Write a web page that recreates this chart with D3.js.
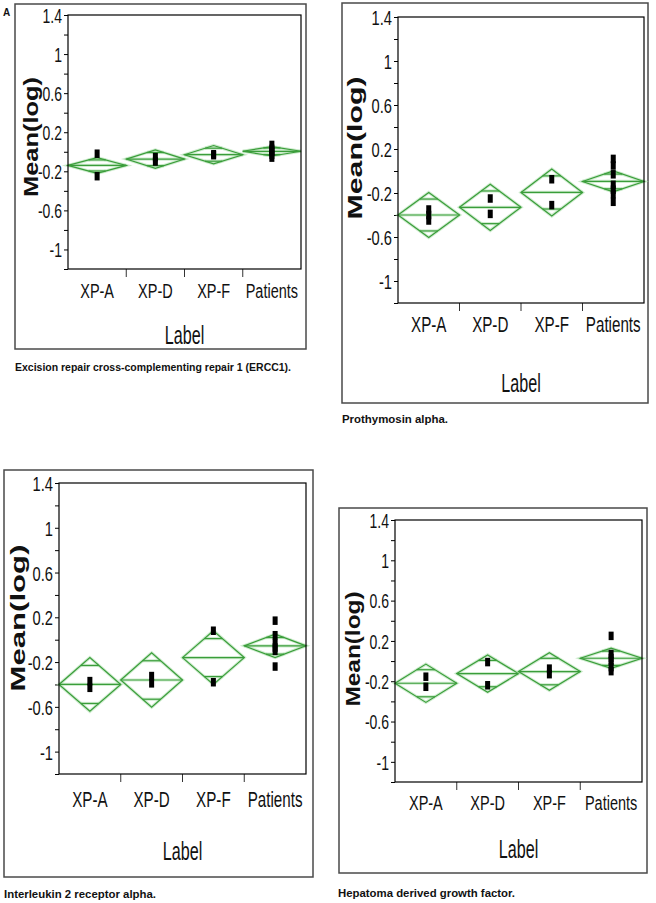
<!DOCTYPE html>
<html><head><meta charset="utf-8">
<script src="https://cdn.jsdelivr.net/npm/d3@7"></script>
<style>body{margin:0;background:#fff}svg{display:block}</style>
</head><body>
<svg id="c" width="656" height="903"></svg>
<script>
// ---------- data ----------
const categories = ["XP-A", "XP-D", "XP-F", "Patients"];
const yTickValues = [1.4, 1.2, 1, 0.8, 0.6, 0.4, 0.2, 0, -0.2, -0.4, -0.6, -0.8, -1, -1.2];
const yTickLabels = [1.4, 1, 0.6, 0.2, -0.2, -0.6, -1];
const yDomain = [-1.2, 1.4];
const yTitle = "Mean(log)";
const xTitle = "Label";
const panelLetter = "A";
const captions = [
  "Excision repair cross-complementing repair 1 (ERCC1).",
  "Prothymosin alpha.",
  "Interleukin 2 receptor alpha.",
  "Hepatoma derived growth factor."
];

// ERCC1
const meansERCC1 = [-0.14, -0.075, -0.03, 0.005];
const ciERCC1 = [0.08, 0.095, 0.094, 0.048];
const pointsERCC1 = [[-0.02, -0.25], [-0.055, -0.10], [-0.025, -0.035], [0.07, 0.03, 0.01, 0.0, -0.03, -0.06]];
// Prothymosin alpha
const meansPTMA = [-0.40, -0.33, -0.195, -0.095];
const ciPTMA = [0.205, 0.21, 0.213, 0.095];
const pointsPTMA = [[-0.35, -0.40, -0.45], [-0.25, -0.39], [-0.075, -0.31], [0.11, 0.05, -0.03, -0.125, -0.17, -0.21, -0.28]];
// IL2RA
const meansIL2RA = [-0.40, -0.36, -0.16, -0.055];
const ciIL2RA = [0.24, 0.243, 0.24, 0.105];
const pointsIL2RA = [[-0.37, -0.43], [-0.325, -0.39], [0.08, -0.38], [0.17, 0.04, -0.03, -0.07, -0.10, -0.24]];
// HDGF
const meansHDGF = [-0.22, -0.124, -0.104, 0.028];
const ciHDGF = [0.19, 0.185, 0.186, 0.10];
const pointsHDGF = [[-0.155, -0.255], [-0.01, -0.24], [-0.075, -0.13], [0.25, 0.07, 0.03, 0.0, -0.06, -0.10]];

const panelsData = [
  {means: meansERCC1, ci: ciERCC1, points: pointsERCC1, caption: captions[0]},
  {means: meansPTMA, ci: ciPTMA, points: pointsPTMA, caption: captions[1]},
  {means: meansIL2RA, ci: ciIL2RA, points: pointsIL2RA, caption: captions[2]},
  {means: meansHDGF, ci: ciHDGF, points: pointsHDGF, caption: captions[3]}
];

// ---------- layout ----------
const layouts = [
  {frame:[15,4,306,349], plot:[68,15,301,269], catY:290, labY:335, yl:[31,137,120], cap:[15,367,276], fs:19},
  {frame:[342,3,648,403], plot:[398,17,644,303], catY:324, labY:383, yl:[355,148,143], cap:[342,419,106], fs:20},
  {frame:[4,470,313,877], plot:[59,483,306,774], catY:799, labY:851, yl:[18,618,147], cap:[4,894,152], fs:20},
  {frame:[339,508,647,873], plot:[395,520,642,782], catY:802, labY:849, yl:[353,649,115], cap:[338,893,177], fs:19}
];

const svg = d3.select("#c");
const FONT = "'Liberation Sans', Arial, sans-serif";
const GREEN = "#3a9d3a";

function fitTo(sel, w) {
  sel.attr("textLength", w).attr("lengthAdjust", "spacingAndGlyphs");
}

panelsData.forEach((pd, i) => {
  const L = layouts[i];
  const [px0, py0, px1, py1] = L.plot;
  const g = svg.append("g");

  // outer frame
  g.append("rect")
    .attr("x", L.frame[0]).attr("y", L.frame[1])
    .attr("width", L.frame[2] - L.frame[0]).attr("height", L.frame[3] - L.frame[1])
    .attr("fill", "none").attr("stroke", "#4a4a4a").attr("stroke-width", 1.5);

  const x = d3.scaleBand().domain(categories).range([px0, px1]).padding(0);
  const y = d3.scaleLinear().domain(yDomain).range([py1, py0]);
  const bw = x.bandwidth();

  // y axis
  const fy = 0.7;
  const yAxis = d3.axisLeft(y).tickValues(yTickValues).tickSize(4).tickSizeOuter(0)
    .tickFormat(d => yTickLabels.some(v => Math.abs(v - d) < 1e-9) ? String(d) : "");
  const ya = g.append("g").attr("transform", `translate(${px0},0)`).call(yAxis);
  ya.select(".domain").remove();
  ya.selectAll(".tick line").attr("stroke", "#000");
  ya.selectAll(".tick text")
    .attr("font-family", FONT).attr("font-size", L.fs + 1).attr("fill", "#111")
    .attr("x", -6 / fy).attr("dy", "0.36em")
    .attr("transform", `scale(${fy},1)`);

  // x axis labels
  const fx = 0.69;
  const xAxis = d3.axisBottom(x).tickSize(0).tickPadding(0);
  const xa = g.append("g").attr("transform", `translate(0,${L.catY})`).call(xAxis);
  xa.select(".domain").remove();
  xa.selectAll(".tick text")
    .attr("font-family", FONT).attr("font-size", L.fs + 2).attr("fill", "#111")
    .attr("y", 0).attr("dy", "0.36em")
    .attr("transform", `scale(${fx},1)`);

  // category separators
  g.selectAll(".sep").data(categories.slice(1)).join("line")
    .attr("x1", d => x(d)).attr("x2", d => x(d))
    .attr("y1", py1).attr("y2", py1 + 8)
    .attr("stroke", "#333").attr("stroke-width", 1);

  // diamonds
  const dg = g.append("g");
  categories.forEach((c, k) => {
    const m = pd.means[k], h = pd.ci[k];
    const xl = x(c), xr = x(c) + bw, xc = x(c) + bw / 2;
    const pts = [[xl, y(m)], [xc, y(m + h)], [xr, y(m)], [xc, y(m - h)]];
    const poly = "M" + pts.map(p => p.join(",")).join("L") + "Z";
    const o = h * Math.SQRT1_2;
    const fr = 1 - Math.SQRT1_2;
    const lines = [
      [xl, xr, m],
      [xc - fr * bw / 2, xc + fr * bw / 2, m + o],
      [xc - fr * bw / 2, xc + fr * bw / 2, m - o]
    ];
    [["#a8dca8", 3.2, 0.55], [GREEN, 1.2, 1]].forEach(([col, sw, op]) => {
      dg.append("path").attr("d", poly).attr("fill", "none")
        .attr("stroke", col).attr("stroke-width", sw).attr("stroke-opacity", op);
      lines.forEach(l => dg.append("line")
        .attr("x1", l[0]).attr("x2", l[1]).attr("y1", y(l[2])).attr("y2", y(l[2]))
        .attr("stroke", col).attr("stroke-width", sw).attr("stroke-opacity", op));
    });
  });

  // points
  const pdata = [];
  categories.forEach((c, k) => pd.points[k].forEach(v => pdata.push({c, v})));
  g.append("g").selectAll("rect").data(pdata).join("rect")
    .attr("x", d => x(d.c) + bw / 2 - 2.5)
    .attr("y", d => y(d.v) - 4.25)
    .attr("width", 5).attr("height", 8.5)
    .attr("fill", "#000");

  // plot box
  g.append("rect")
    .attr("x", px0).attr("y", py0).attr("width", px1 - px0).attr("height", py1 - py0)
    .attr("fill", "none").attr("stroke", "#000").attr("stroke-width", 1.2);

  // x title
  const ft = 0.62;
  g.append("text")
    .attr("transform", `translate(${(px0 + px1) / 2},${L.labY}) scale(${ft},1)`)
    .attr("dy", "0.36em")
    .attr("text-anchor", "middle").attr("font-family", FONT).attr("font-size", 26)
    .attr("fill", "#111").text(xTitle);

  // y title (rotated)
  const yt = g.append("text")
    .attr("transform", `translate(${L.yl[0]},${L.yl[1]}) rotate(-90)`)
    .attr("dy", "0.36em")
    .attr("text-anchor", "middle").attr("font-family", FONT).attr("font-weight", "bold")
    .attr("font-size", 20).attr("fill", "#111").text(yTitle);
  fitTo(yt, L.yl[2]);

  // caption
  const ct = g.append("text")
    .attr("x", L.cap[0]).attr("y", L.cap[1]).attr("dy", "0.36em")
    .attr("font-family", FONT).attr("font-weight", "bold").attr("font-size", 11.5)
    .attr("fill", "#111").text(pd.caption);
  fitTo(ct, L.cap[2]);
});

svg.append("text").attr("x", 3).attr("y", 16)
  .attr("font-family", FONT).attr("font-weight", "bold").attr("font-size", 10)
  .attr("fill", "#111").text(panelLetter);
</script>
</body></html>
